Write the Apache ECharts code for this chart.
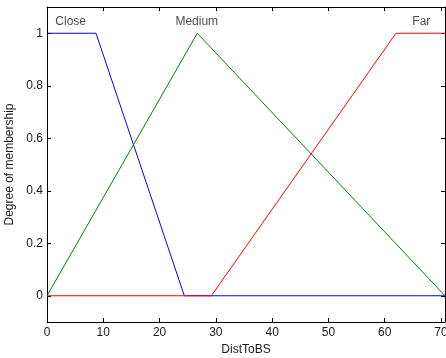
<!DOCTYPE html>
<html>
<head>
<meta charset="utf-8">
<script src="https://cdn.jsdelivr.net/npm/echarts@6/dist/echarts.min.js"></script>
<style>
  html, body { margin: 0; padding: 0; background: #fff; }
  #chart { width: 446px; height: 358px; }
</style>
</head>
<body>
<div id="chart"></div>
<script>
// membership functions, [x, degree]
var closeMf = [[0, 1], [8.7, 1], [24.4, 0], [70.71, 0]];
var mediumMf = [[0, 0], [26.7, 1], [70.71, 0]];
var farMf = [[0, 0], [29.2, 0], [62.0, 1], [70.71, 1]];

// labels above the curves
var mfNames = ['Close', 'Medium', 'Far'];
var mfLabelX = [4.2, 26.6, 66.5];
var mfLabelY = [1.045, 1.045, 1.045];

var xTicks = [0, 10, 20, 30, 40, 50, 60, 70];
var yTicks = [0, 0.2, 0.4, 0.6, 0.8, 1];

var chart = echarts.init(document.getElementById('chart'));
var font = 'Liberation Sans';
var txt = '#1a1a1a';

var labelData = mfNames.map(function (n, i) {
  return { value: [mfLabelX[i], mfLabelY[i]], name: n };
});

function xAx(pos, labels) {
  return {
    type: 'value',
    position: pos,
    min: 0,
    max: 70.71,
    name: labels ? 'DistToBS' : '',
    nameLocation: 'middle',
    nameGap: 22,
    nameTextStyle: { color: txt, fontSize: 12, fontFamily: font },
    axisLine: { show: true, onZero: false, lineStyle: { color: '#000', width: 1 } },
    axisTick: { show: true, inside: true, length: 4, customValues: xTicks, lineStyle: { color: '#000' } },
    axisLabel: { show: labels, customValues: xTicks, color: txt, fontSize: 12, margin: 5, fontFamily: font },
    splitLine: { show: false }
  };
}
function yAx(pos, labels) {
  return {
    type: 'value',
    position: pos,
    min: -0.1,
    max: 1.1,
    name: labels ? 'Degree of membership' : '',
    nameLocation: 'middle',
    nameGap: 25,
    nameTextStyle: { color: txt, fontSize: 12, fontFamily: font },
    axisLine: { show: true, onZero: false, lineStyle: { color: '#000', width: 1 } },
    axisTick: { show: true, inside: true, length: 4, customValues: yTicks, lineStyle: { color: '#000' } },
    axisLabel: { show: labels, customValues: yTicks, color: txt, fontSize: 12, margin: 4, fontFamily: font },
    splitLine: { show: false }
  };
}

var option = {
  animation: false,
  textStyle: { fontFamily: font },
  grid: { left: 47, right: 1, top: 7, bottom: 36, outerBoundsMode: 'none', containLabel: false },
  xAxis: [xAx('bottom', true), xAx('top', false)],
  yAxis: [yAx('left', true), yAx('right', false)],
  series: [
    {
      name: 'Close', type: 'line', data: closeMf, symbol: 'none',
      lineStyle: { color: '#0000ff', width: 1 }
    },
    {
      name: 'Medium', type: 'line', data: mediumMf, symbol: 'none',
      lineStyle: { color: '#008000', width: 1 }
    },
    {
      name: 'Far', type: 'line', data: farMf, symbol: 'none',
      lineStyle: { color: '#ff0000', width: 1 }
    },
    {
      type: 'scatter', data: labelData, symbolSize: 0, silent: true,
      label: {
        show: true, position: 'inside', formatter: '{b}',
        color: txt, fontSize: 12, fontFamily: font
      }
    },
    // binds the box axes on top and right
    { type: 'line', xAxisIndex: 1, yAxisIndex: 1, data: [], symbol: 'none' }
  ]
};
chart.setOption(option);
</script>
</body>
</html>
